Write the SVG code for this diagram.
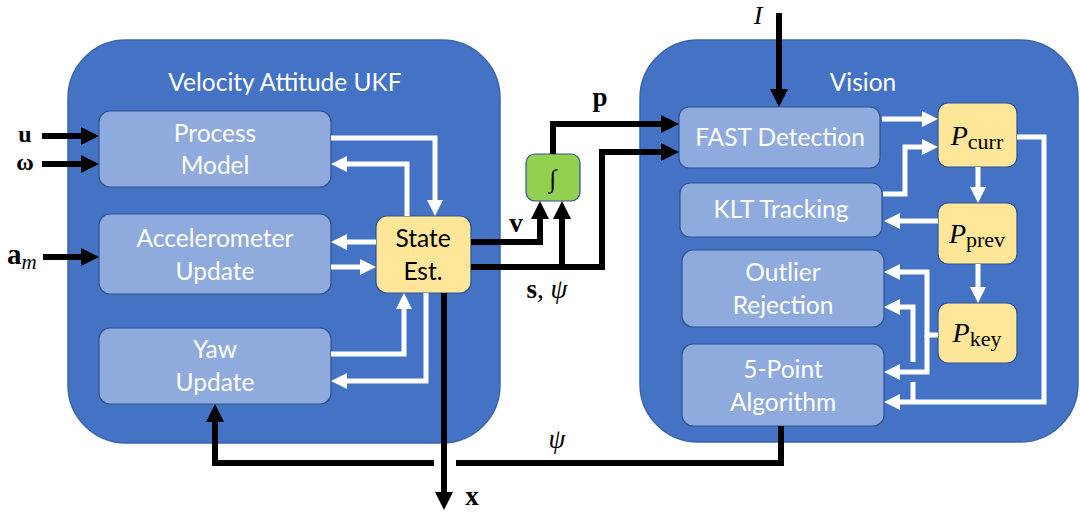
<svg xmlns="http://www.w3.org/2000/svg" width="1080" height="512" viewBox="0 0 1080 512">
<defs>
<style>
.cont{fill:#4472C4;stroke:#3A64AE;stroke-width:1.5}
.box{fill:#8FAADC;stroke:#2F528F;stroke-width:1.2}
.yel{fill:#FFE699;stroke:#2F528F;stroke-width:1.2}
.grn{fill:#92D050;stroke:#2F528F;stroke-width:1.2}
.t{font-family:Lato,"Liberation Sans",sans-serif;font-size:24.5px;fill:#fff;text-anchor:middle}
.tk{font-family:Lato,"Liberation Sans",sans-serif;font-size:24.5px;fill:#000;text-anchor:middle}
.m{font-family:"Liberation Serif","DejaVu Serif",serif;fill:#000}
.mb{font-weight:bold}
.mi{font-style:italic}
.blk{fill:none;stroke:#000;stroke-width:6}
.wht{fill:none;stroke:#fff;stroke-width:5}
</style>
<marker id="ab" markerUnits="userSpaceOnUse" viewBox="0 0 18 18" markerWidth="18" markerHeight="18" refX="4" refY="9" orient="auto"><path d="M0,0 L18,9 L0,18 z" fill="#000"/></marker>
<marker id="aw" markerUnits="userSpaceOnUse" viewBox="0 0 16 16" markerWidth="16" markerHeight="16" refX="4" refY="8" orient="auto"><path d="M0,0 L16,8 L0,16 z" fill="#fff"/></marker>
</defs>

<g id="ukf">
<rect class="cont" x="68" y="40" width="432" height="403" rx="58"/>
<text class="t" x="285" y="91">Velocity Attitude UKF</text>
</g>
<g id="vision">
<rect class="cont" x="640" y="40" width="438" height="402" rx="58"/>
<text class="t" x="863" y="91">Vision</text>
</g>

<g id="process-model">
<rect class="box" x="99" y="111" width="232" height="76" rx="11"/>
<text class="t" x="215" y="142">Process</text>
<text class="t" x="215" y="174">Model</text>
</g>
<g id="accel-update">
<rect class="box" x="99" y="214" width="232" height="80" rx="11"/>
<text class="t" x="215" y="247">Accelerometer</text>
<text class="t" x="215" y="280">Update</text>
</g>
<g id="yaw-update">
<rect class="box" x="99" y="328" width="232" height="76" rx="11"/>
<text class="t" x="215" y="358">Yaw</text>
<text class="t" x="215" y="391">Update</text>
</g>
<g id="state-est">
<rect class="yel" x="376" y="216" width="95" height="77" rx="11"/>
<text class="tk" x="423" y="247">State</text>
<text class="tk" x="423" y="280">Est.</text>
</g>
<g id="integrator">
<rect class="grn" x="526" y="154" width="54" height="47" rx="9"/>
<text class="m" x="553" y="187" font-size="25" text-anchor="middle">∫</text>
</g>

<g id="fast">
<rect class="box" x="679" y="107" width="201" height="61" rx="10"/>
<text class="t" x="780" y="146">FAST Detection</text>
</g>
<g id="klt">
<rect class="box" x="680" y="183" width="202" height="54" rx="10"/>
<text class="t" x="781" y="218">KLT Tracking</text>
</g>
<g id="outlier">
<rect class="box" x="682" y="250" width="202" height="77" rx="11"/>
<text class="t" x="783" y="281">Outlier</text>
<text class="t" x="783" y="314">Rejection</text>
</g>
<g id="five-point">
<rect class="box" x="682" y="344" width="202" height="82" rx="11"/>
<text class="t" x="783" y="378">5-Point</text>
<text class="t" x="783" y="411">Algorithm</text>
</g>
<g id="p-curr">
<rect class="yel" x="938" y="103" width="79" height="64" rx="10"/>
<text class="m" x="977" y="145" text-anchor="middle"><tspan class="mi" font-size="28">P</tspan><tspan font-size="22" dy="4">curr</tspan></text>
</g>
<g id="p-prev">
<rect class="yel" x="938" y="203" width="79" height="61" rx="10"/>
<text class="m" x="977" y="243" text-anchor="middle"><tspan class="mi" font-size="28">P</tspan><tspan font-size="22" dy="4">prev</tspan></text>
</g>
<g id="p-key">
<rect class="yel" x="938" y="303" width="79" height="60" rx="10"/>
<text class="m" x="977" y="342" text-anchor="middle"><tspan class="mi" font-size="28">P</tspan><tspan font-size="22" dy="4">key</tspan></text>
</g>

<g id="connectors">
<path class="blk" d="M42,136 H85" marker-end="url(#ab)"/>
<path class="blk" d="M42,164 H85" marker-end="url(#ab)"/>
<path class="blk" d="M43,257 H85" marker-end="url(#ab)"/>
<path class="blk" d="M471,242 H540 V215" marker-end="url(#ab)"/>
<path class="blk" d="M562,267 V215" marker-end="url(#ab)"/>
<path class="blk" d="M471,267 H602 V152 H665" marker-end="url(#ab)"/>
<path class="blk" d="M553,154 V124 H665" marker-end="url(#ab)"/>
<path class="blk" d="M779,13 V93" marker-end="url(#ab)"/>
<path class="blk" d="M444,293 V496" marker-end="url(#ab)"/>
<path class="blk" d="M781,426 V463 H456"/>
<path class="blk" d="M434,463 H215 V418" marker-end="url(#ab)"/>

<path class="wht" d="M331,138 H435 V204" marker-end="url(#aw)"/>
<path class="wht" d="M407,216 V164 H343" marker-end="url(#aw)"/>
<path class="wht" d="M376,242 H343" marker-end="url(#aw)"/>
<path class="wht" d="M331,267 H364" marker-end="url(#aw)"/>
<path class="wht" d="M331,354 H404 V305" marker-end="url(#aw)"/>
<path class="wht" d="M426,293 V381 H343" marker-end="url(#aw)"/>

<path class="wht" d="M882,119 H926" marker-end="url(#aw)"/>
<path class="wht" d="M883,194 H905 V147 H926" marker-end="url(#aw)"/>
<path class="wht" d="M978,167 V191" marker-end="url(#aw)"/>
<path class="wht" d="M938,221 H896" marker-end="url(#aw)"/>
<path class="wht" d="M978,264 V291" marker-end="url(#aw)"/>
<path class="wht" d="M938,335 H927 V272 H896" marker-end="url(#aw)"/>
<path class="wht" d="M927,335 V372 H896" marker-end="url(#aw)"/>
<path class="wht" d="M1017,137 H1044 V402 H896" marker-end="url(#aw)"/>
<path class="wht" d="M913,402 V382"/>
<path class="wht" d="M913,362 V307 H896" marker-end="url(#aw)"/>
</g>

<g id="labels">
<text class="m mb" x="25" y="142" font-size="24" text-anchor="middle">u</text>
<text class="m mb" x="25" y="170" font-size="24" text-anchor="middle">ω</text>
<text class="m" x="7" y="264" font-size="29"><tspan class="mb">a</tspan><tspan class="mi" font-size="21" dy="5">m</tspan></text>
<text class="m mb" x="516" y="232" font-size="27" text-anchor="middle">v</text>
<text class="m mb" x="600" y="106" font-size="27" text-anchor="middle">p</text>
<text class="m" x="547" y="298" font-size="27" text-anchor="middle"><tspan class="mb">s</tspan>, <tspan class="mi">ψ</tspan></text>
<text class="m mb" x="472" y="505" font-size="27" text-anchor="middle">x</text>
<text class="m mi" x="557" y="448" font-size="27" text-anchor="middle">ψ</text>
<text class="m mi" x="758" y="24" font-size="26" text-anchor="middle">I</text>
</g>
</svg>
